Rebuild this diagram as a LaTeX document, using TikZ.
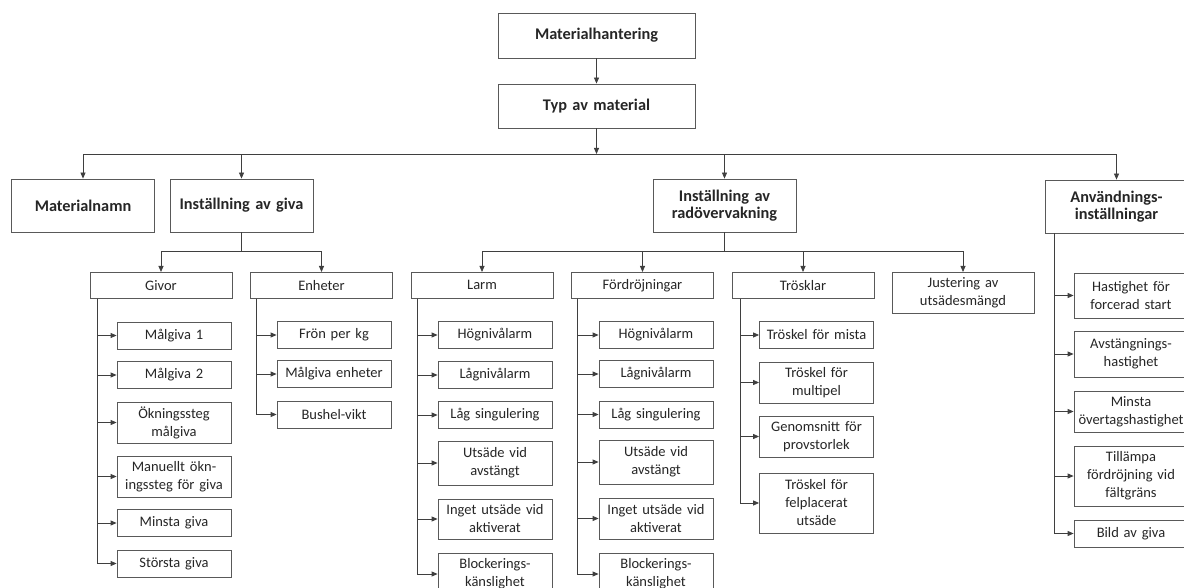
\documentclass[tikz,border=0pt]{standalone}
\usepackage{fontspec}
\setmainfont{Carlito}
\usetikzlibrary{arrows.meta, positioning}
\definecolor{ink}{HTML}{262626}
\definecolor{wire}{HTML}{3F3F3F}
\definecolor{frame}{HTML}{595959}
\tikzset{
  font=\fontsize{14.5}{18}\selectfont,
  >={Triangle[length=6pt, width=5pt]},
  %
  box/.style={draw=frame, line width=0.8pt, fill=white, align=center,
              text=ink, inner ysep=2pt},
  head/.style={box, font=\fontsize{16.3}{17.5}\selectfont\bfseries},
  topbox/.style={head, text width=189, inner xsep=4pt, minimum height=45},
  secbox/.style={head, text width=135, inner xsep=4pt, minimum height=53},
  grpbox/.style={box, text width=134, inner xsep=4pt, minimum height=26,
                 anchor=north},
  leaf/.style={box, text width=106, inner xsep=4pt, minimum height=27},
  %
  flow/.style={draw=wire, line width=0.8pt, ->},
  link/.style={draw=wire, line width=0.8pt},
}

\begin{document}
\begin{tikzpicture}[x=1pt, y=-1pt]
\useasboundingbox (0,0) rectangle (1184,588);
\clip (0,0) rectangle (1184,588);

% ------------------------------------------------------------------ top
\node[topbox] (mat) at (596.5,35.5) {Materialhantering};
\node[topbox, minimum height=44] (typ) at (596.5,106) {Typ av material};
\coordinate (bus) at (596.5,154);

\node[secbox] (namn) at (83,205.5) {Materialnamn};
\node[secbox] (giva) at (241.5,205.5) {Inställning av giva};
\node[secbox] (rad) at (724.5,205.5) {Inställning av\\radövervakning};
\node[secbox] (anv) at (1116.5,206.5) {Användnings-\\inställningar};

\draw[flow] (mat) -- (typ);
\draw[flow] (typ) -- (bus);
\foreach \n in {namn,giva,rad,anv} { \draw[flow] (bus) -| (\n); }

% ---------------------------------------------------------------- groups
\coordinate (givabus) at (241.5,251);
\coordinate (radbus) at (724.5,251);

\node[grpbox] (givor) at (161,272) {Givor};
\node[grpbox] (enheter) at (321.5,272) {Enheter};
\node[grpbox] (larm) at (482,272) {Larm};
\node[grpbox] (ford) at (642.5,272) {Fördröjningar};
\node[grpbox] (trosk) at (803,272) {Trösklar};
\node[grpbox, minimum height=41] (just) at (963,272)
  {Justering av\\utsädesmängd};

\draw[link] (giva) -- (givabus);
\foreach \n in {givor,enheter} { \draw[flow] (givabus) -| (\n); }
\draw[link] (rad) -- (radbus);
\foreach \n in {larm,ford,trosk,just} { \draw[flow] (radbus) -| (\n); }

% ----------------------------------------------------------------- givor
\node[leaf] (mal1) at (174,335.5) {Målgiva 1};
\node[leaf] (mal2) at (174,375) {Målgiva 2};
\node[leaf, minimum height=41] (okn) at (174,422.5) {Ökningssteg\\målgiva};
\node[leaf, minimum height=41] (manu) at (174,476.5)
  {Manuellt ökn-\\ingssteg för giva};
\node[leaf] (minsta) at (174,523) {Minsta giva};
\node[leaf] (storsta) at (174,563.5) {Största giva};
\foreach \n in {mal1,mal2,okn,manu,minsta,storsta}
  { \draw[flow] ([xshift=8]givor.south west) |- (\n); }

% --------------------------------------------------------------- enheter
\node[leaf] (fron) at (334,335) {Frön per kg};
\node[leaf] (malenh) at (334,374) {Målgiva enheter};
\node[leaf] (bushel) at (334,414.5) {Bushel-vikt};
\foreach \n in {fron,malenh,bushel}
  { \draw[flow] ([xshift=6]enheter.south west) |- (\n); }

% ------------------------------------------------------------------ larm
\node[leaf] (lhog) at (495,335) {Högnivålarm};
\node[leaf] (llag) at (495,375) {Lågnivålarm};
\node[leaf] (lsing) at (495,415) {Låg singulering};
\node[leaf, minimum height=44] (lav) at (495,463) {Utsäde vid\\avstängt};
\node[leaf, minimum height=40] (lakt) at (495,519)
  {Inget utsäde vid\\aktiverat};
\node[leaf, minimum height=42] (lblock) at (495,574)
  {Blockerings-\\känslighet};
\foreach \n in {lhog,llag,lsing,lav,lakt,lblock}
  { \draw[flow] ([xshift=7]larm.south west) |- (\n); }

% --------------------------------------------------------- fördröjningar
\node[leaf] (fhog) at (656,335) {Högnivålarm};
\node[leaf] (flag) at (656,374) {Lågnivålarm};
\node[leaf] (fsing) at (656,414.5) {Låg singulering};
\node[leaf, minimum height=44] (fav) at (656,462) {Utsäde vid\\avstängt};
\node[leaf, minimum height=41] (fakt) at (656,518.5)
  {Inget utsäde vid\\aktiverat};
\node[leaf, minimum height=42] (fblock) at (656,574)
  {Blockerings-\\känslighet};
\foreach \n in {fhog,flag,fsing,fav,fakt,fblock}
  { \draw[flow] ([xshift=6]ford.south west) |- (\n); }

% -------------------------------------------------------------- trösklar
\node[leaf] (mista) at (816.5,335) {Tröskel för mista};
\node[leaf, minimum height=41] (multi) at (816.5,382.5)
  {Tröskel för\\multipel};
\node[leaf, minimum height=41] (genom) at (816.5,436.5)
  {Genomsnitt för\\provstorlek};
\node[leaf, minimum height=60] (felpl) at (816.5,503)
  {Tröskel för\\felplacerat\\utsäde};
\foreach \n in {mista,multi,genom,felpl}
  { \draw[flow] ([xshift=9]trosk.south west) |- (\n); }

% ----------------------------------------------------- användning
\node[leaf, minimum height=45] (hast) at (1131,295.5)
  {Hastighet för\\forcerad start};
\node[leaf, minimum height=46] (avst) at (1131,354)
  {Avstängnings-\\hastighet};
\node[leaf, minimum height=41] (minover) at (1131,411.5)
  {Minsta\\övertagshastighet};
\node[leaf, minimum height=60] (tillampa) at (1131,476)
  {Tillämpa\\fördröjning vid\\fältgräns};
\node[leaf] (bild) at (1131,533.5) {Bild av giva};
\foreach \n in {hast,avst,minover,tillampa,bild}
  { \draw[flow] ([xshift=10]anv.south west) |- (\n); }

\end{tikzpicture}
\end{document}
